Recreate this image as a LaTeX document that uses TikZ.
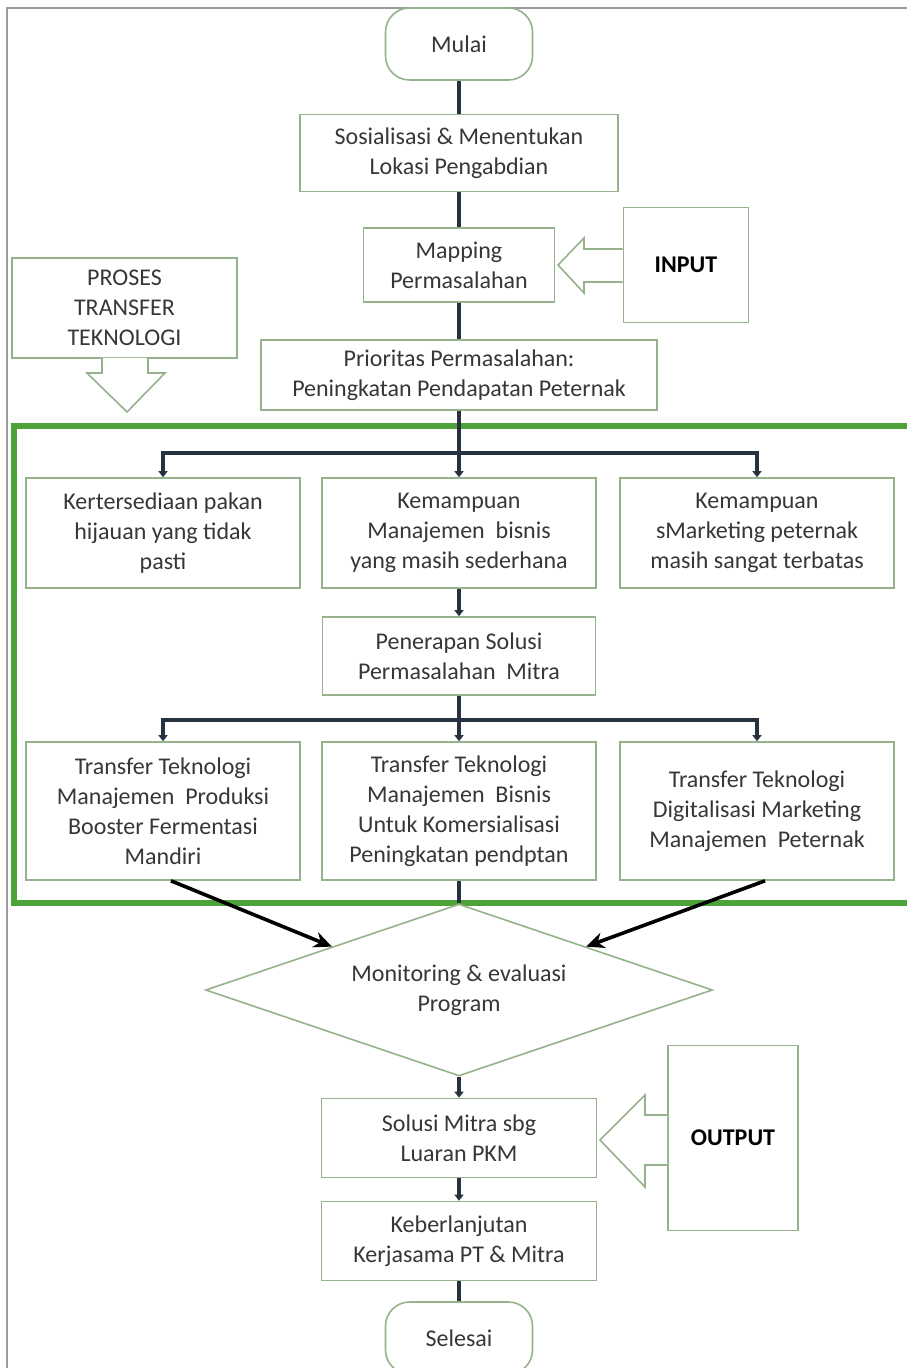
\documentclass[tikz,border=0pt]{standalone}
\usepackage{fontspec}
\setmainfont{Carlito}
\usetikzlibrary{shapes.geometric,arrows.meta}
\definecolor{boxline}{RGB}{150,178,140}
\definecolor{frameline}{RGB}{155,155,155}
\definecolor{procgreen}{RGB}{78,162,58}
\definecolor{connline}{RGB}{38,50,64}
\definecolor{txt}{RGB}{55,55,55}

\begin{document}
\begin{tikzpicture}[x=0.5pt, y=-0.5pt, node distance=55pt,
    box/.style={rectangle, draw=boxline, line width=0.8pt, fill=white, text=txt,
        align=center, inner sep=2pt, font=\fontsize{12}{15}\selectfont},
    term/.style={box, rounded corners=12pt, minimum width=73.5pt, minimum height=36pt},
    decide/.style={box, diamond, aspect=3, inner sep=0pt, minimum width=253.5pt, minimum height=86pt},
    sidebox/.style={box, font=\fontsize{12}{15}\selectfont\bfseries, text=black},
    conn/.style={draw=connline, line width=2pt},
    tip/.style={conn, -{Triangle[length=3pt,width=4.5pt]}},
    bigarrow/.style={draw=black, line width=1.8pt, -{Stealth[length=9pt,width=8pt]}},
    blockarrow/.style={draw=boxline, line width=0.8pt, fill=white}]
    \useasboundingbox (0,0) rectangle (906,1368);
    % frames
    \draw[frameline, line width=0.6pt] (7,8) rectangle (930,1400);
    \draw[procgreen, line width=3pt] (14,426) rectangle (930,903);

    % main column
    \node[term] (mulai) at (459,44) {Mulai};
    \node[box, node distance=54.5pt, below of=mulai, minimum width=159pt, minimum height=38.5pt] (sos)
        {Sosialisasi \& Menentukan\\Lokasi Pengabdian};
    \node[box, node distance=56pt, below of=sos, minimum width=95.5pt, minimum height=37pt] (map)
        {Mapping\\Permasalahan};
    \node[box, node distance=55pt, below of=map, minimum width=198pt, minimum height=35pt] (prior)
        {Prioritas Permasalahan:\\Peningkatan Pendapatan Peternak};

    % masalah
    \node[box, node distance=79pt, below of=prior, minimum width=137pt, minimum height=55pt] (masm)
        {Kemampuan\\Manajemen\ \ bisnis\\yang masih sederhana};
    \node[box, node distance=148pt, left of=masm, minimum width=137pt, minimum height=55pt] (masl)
        {Kertersediaan pakan\\hijauan yang tidak\\pasti};
    \node[box, node distance=149pt, right of=masm, minimum width=137pt, minimum height=55pt] (masr)
        {Kemampuan\\sMarketing peternak\\masih sangat terbatas};
    \node[box, node distance=61.5pt, below of=masm, minimum width=136.5pt, minimum height=39pt] (solusi)
        {Penerapan Solusi\\Permasalahan\ \ Mitra};

    % transfer teknologi
    \node[box, node distance=77.5pt, below of=solusi, minimum width=137pt, minimum height=69pt] (ttm)
        {Transfer Teknologi\\Manajemen\ \ Bisnis\\Untuk Komersialisasi\\Peningkatan pendptan};
    \node[box, node distance=148pt, left of=ttm, minimum width=137pt, minimum height=69pt] (ttl)
        {Transfer Teknologi\\Manajemen\ \ Produksi\\Booster Fermentasi\\Mandiri};
    \node[box, node distance=149pt, right of=ttm, minimum width=137pt, minimum height=69pt] (ttr)
        {Transfer Teknologi\\Digitalisasi Marketing\\Manajemen\ \ Peternak};

    \node[decide, node distance=89.5pt, below of=ttm] (monev) {Monitoring \& evaluasi\\Program};
    \node[box, node distance=74pt, below of=monev, minimum width=137.5pt, minimum height=39.5pt] (luaran)
        {Solusi Mitra sbg\\Luaran PKM};
    \node[box, node distance=51.5pt, below of=luaran, minimum width=137.5pt, minimum height=39.5pt] (lanjut)
        {Keberlanjutan\\Kerjasama PT \& Mitra};
    \node[term, node distance=48.5pt, below of=lanjut] (selesai) {Selesai};

    % side notes
    \node[sidebox, node distance=113.5pt, right of=map, minimum width=62.5pt, minimum height=57.5pt] (input) {INPUT};
    \node[sidebox, node distance=137pt, right of=luaran, minimum width=65pt, minimum height=92.5pt] (output) {OUTPUT};
    \node[box, font=\fontsize{12}{15}\selectfont, minimum width=112.5pt, minimum height=50pt] (proses) at (124.5,308)
        {PROSES\\TRANSFER\\TEKNOLOGI};

    % block arrows
    \draw[blockarrow] (input.west |- 0,249) -- (584,249) -- (584,238) -- (558,265)
        -- (584,293) -- (584,282) -- (input.west |- 0,282);
    \draw[blockarrow] (output.west |- 0,1115) -- (645,1115) -- (645,1095) -- (600,1140)
        -- (645,1187) -- (645,1165) -- (output.west |- 0,1165);
    \draw[blockarrow] (102,358) -- (102,373) -- (87,373) -- (127,412) -- (165,373)
        -- (148,373) -- (148,358);

    % connectors
    \draw[conn] (mulai) -- (sos);
    \draw[conn] (sos) -- (map);
    \draw[conn] (map) -- (prior);
    \coordinate (bar1) at (459,453);
    \coordinate (bar2) at (459,720);
    \draw[tip] (prior) -- (masm);
    \draw[tip] (bar1) -| (masl.north);
    \draw[tip] (bar1) -| (masr.north);
    \draw[tip] (masm) -- (solusi);
    \draw[tip] (solusi) -- (ttm);
    \draw[tip] (bar2) -| (ttl.north);
    \draw[tip] (bar2) -| (ttr.north);
    \draw[conn] (ttm) -- (monev.north);
    \draw[bigarrow] ([xshift=4pt]ttl.south) -- (monev.north west);
    \draw[bigarrow] ([xshift=4pt]ttr.south) -- (monev.north east);
    \draw[tip] (monev) -- (luaran);
    \draw[tip] (luaran) -- (lanjut);
    \draw[conn] (lanjut) -- (selesai);
\end{tikzpicture}
\end{document}
